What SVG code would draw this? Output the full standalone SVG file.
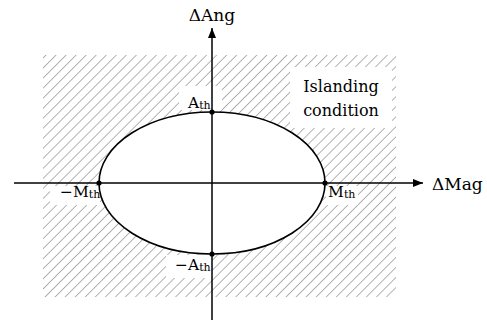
<svg xmlns="http://www.w3.org/2000/svg" width="487" height="320" viewBox="0 0 487 320">
<style>
.ax{stroke:#000;stroke-width:1.5;fill:none}
.ell{stroke:#000;stroke-width:1.6;fill:#fff}
.dot{fill:#000}
.box{fill:#fff}
text{font-family:"DejaVu Serif",serif;fill:#000}
</style>
<defs>
<pattern id="hatch" patternUnits="userSpaceOnUse" width="7.1" height="7.1" patternTransform="rotate(45)">
<line x1="0" y1="0" x2="0" y2="7.1" stroke="#9a9a9a" stroke-width="1.5"/>
</pattern>
<marker id="arr" viewBox="0 0 10 8" refX="10" refY="4" markerWidth="10" markerHeight="8" markerUnits="userSpaceOnUse" orient="auto">
<path d="M0,0 L10,4 L0,8 Z" fill="#000"/>
</marker>
</defs>
<rect width="487" height="320" fill="#fff"/>
<g id="region">
<rect x="43" y="55" width="353" height="242" fill="url(#hatch)"/>
</g>
<g id="label-boxes">
<rect class="box" x="290" y="67" width="102" height="61"/>
<rect class="box" x="179" y="86" width="43" height="24"/>
<rect class="box" x="50" y="186" width="50" height="19"/>
<rect class="box" x="326" y="186" width="32" height="19"/>
<rect class="box" x="166" y="255" width="46" height="23"/>
</g>
<g id="ellipse">
<ellipse class="ell" cx="212" cy="183" rx="113" ry="71"/>
</g>
<g id="connectors">
<line class="ax" x1="212" y1="320" x2="212" y2="28" marker-end="url(#arr)"/>
<line class="ax" x1="14" y1="183" x2="423" y2="183" marker-end="url(#arr)"/>
</g>
<g id="points">
<circle class="dot" cx="212" cy="112" r="2.6"/>
<circle class="dot" cx="212" cy="254" r="2.6"/>
<circle class="dot" cx="99" cy="183" r="2.6"/>
<circle class="dot" cx="325" cy="183" r="2.6"/>
</g>
<g id="axis-labels">
<text x="212" y="21" font-size="17" text-anchor="middle">ΔAng</text>
<text x="432" y="190" font-size="17">ΔMag</text>
</g>
<g id="islanding">
<text x="341" y="92" font-size="16" text-anchor="middle">Islanding</text>
<text x="341" y="116" font-size="16" text-anchor="middle">condition</text>
</g>
<g id="A-th">
<text x="188" y="108" font-size="15.5">A<tspan font-size="11" dy="1">th</tspan></text>
</g>
<g id="neg-A-th">
<text x="175" y="270" font-size="15.5">−A<tspan font-size="11" dy="1">th</tspan></text>
</g>
<g id="neg-M-th">
<text x="60" y="197" font-size="15.5">−M<tspan font-size="11" dy="1">th</tspan></text>
</g>
<g id="M-th">
<text x="328" y="197" font-size="15.5">M<tspan font-size="11" dy="1">th</tspan></text>
</g>
</svg>
